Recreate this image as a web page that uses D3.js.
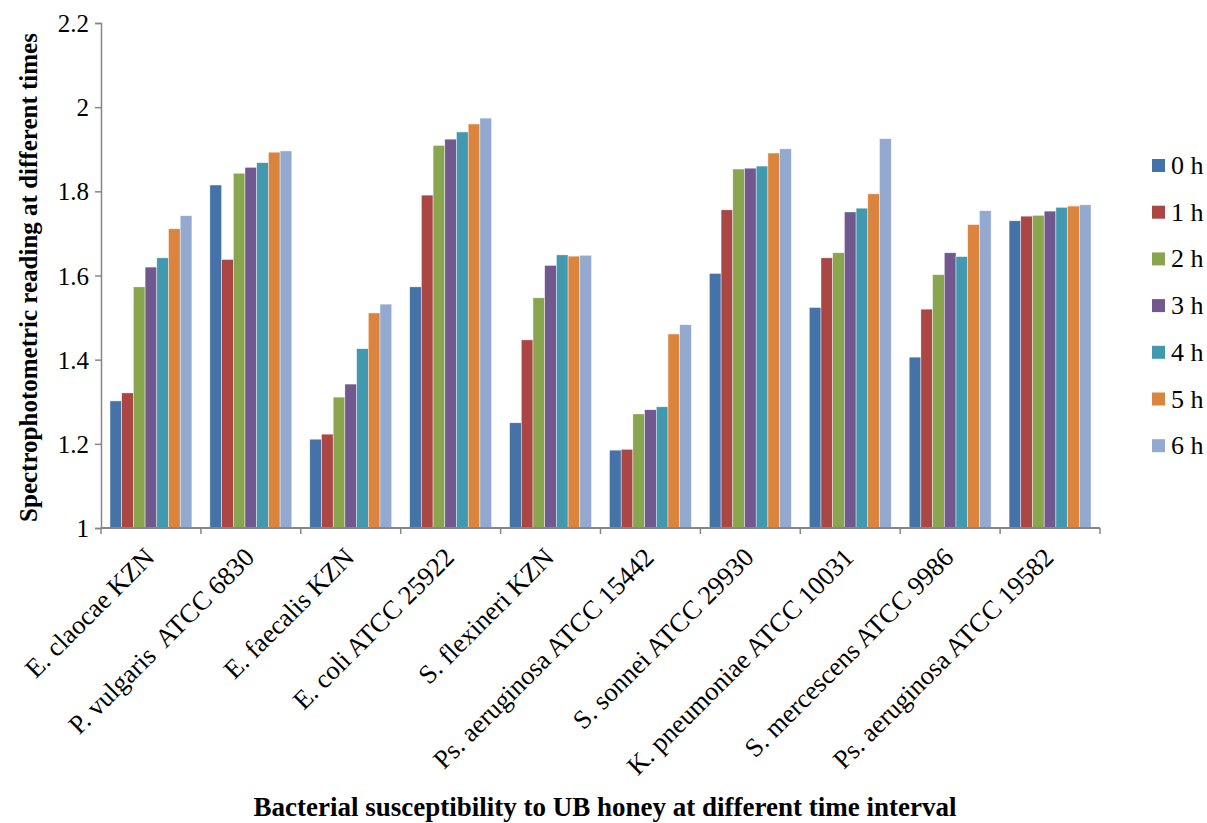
<!DOCTYPE html>
<html>
<head>
<meta charset="utf-8">
<script src="https://cdn.jsdelivr.net/npm/d3@7"></script>
<style>
  body { margin: 0; background: #fff; }
  svg { display: block; }
</style>
</head>
<body>
<svg id="chart" width="1207" height="823"></svg>
<script>
const categories = [
  "E. claocae KZN",
  "P. vulgaris\u00a0 ATCC 6830",
  "E. faecalis KZN",
  "E. coli ATCC 25922",
  "S. flexineri KZN",
  "Ps. aeruginosa ATCC 15442",
  "S. sonnei ATCC 29930",
  "K. pneumoniae ATCC 10031",
  "S. mercescens ATCC 9986",
  "Ps. aeruginosa ATCC 19582"
];
const seriesNames = ["0 h", "1 h", "2 h", "3 h", "4 h", "5 h", "6 h"];
const seriesColors = ["#4572A7", "#AA4643", "#89A54E", "#71588F", "#4198AF", "#DB843D", "#93A9CF"];
const h0 = [1.302, 1.815, 1.211, 1.573, 1.250, 1.185, 1.605, 1.524, 1.406, 1.730];
const h1 = [1.321, 1.638, 1.223, 1.791, 1.447, 1.187, 1.756, 1.642, 1.520, 1.741];
const h2 = [1.573, 1.843, 1.311, 1.909, 1.547, 1.271, 1.853, 1.654, 1.602, 1.743];
const h3 = [1.620, 1.857, 1.342, 1.924, 1.624, 1.281, 1.855, 1.751, 1.654, 1.753];
const h4 = [1.642, 1.868, 1.426, 1.941, 1.649, 1.288, 1.860, 1.760, 1.645, 1.762];
const h5 = [1.711, 1.893, 1.511, 1.960, 1.646, 1.461, 1.891, 1.794, 1.721, 1.765];
const h6 = [1.742, 1.896, 1.532, 1.974, 1.648, 1.483, 1.901, 1.925, 1.754, 1.768];
const yTicks = [1, 1.2, 1.4, 1.6, 1.8, 2, 2.2];
const yTitle = "Spectrophotometric reading at different times";
const xTitle = "Bacterial susceptibility to UB honey at different time interval";

const series = [h0, h1, h2, h3, h4, h5, h6];
const FONT = "'Liberation Serif', 'Times New Roman', serif";

const svg = d3.select("#chart");
const margin = { left: 101, right: 1100, top: 23, bottom: 528 };

const x0 = d3.scaleBand().domain(categories)
  .range([margin.left, margin.right]).paddingInner(0.18).paddingOuter(0.09);
const x1 = d3.scaleBand().domain(seriesNames).range([0, x0.bandwidth()]).padding(0);
const y = d3.scaleLinear().domain([1, 2.2]).range([margin.bottom, margin.top]);

const axisColor = "#868686";

// bars
const groups = svg.append("g").selectAll("g")
  .data(categories).join("g")
  .attr("transform", d => `translate(${x0(d)},0)`);

groups.selectAll("rect")
  .data((c, i) => series.map((s, k) => ({ name: seriesNames[k], value: s[i], color: seriesColors[k] })))
  .join("rect")
  .attr("x", d => x1(d.name))
  .attr("width", x1.bandwidth())
  .attr("y", d => y(d.value))
  .attr("height", d => y(1) - y(d.value))
  .attr("fill", d => d.color)
  .attr("stroke", "rgba(255,255,255,0.7)")
  .attr("stroke-width", 0.6);

// y axis
const yAxis = d3.axisLeft(y).tickValues(yTicks).tickFormat(d3.format("~g")).tickSize(6).tickPadding(6);
const gy = svg.append("g").attr("transform", `translate(${margin.left},0)`).call(yAxis);
gy.attr("font-family", FONT).attr("font-size", 25);
gy.select(".domain").attr("stroke", axisColor).attr("stroke-width", 1.5);
gy.selectAll(".tick line").attr("stroke", axisColor).attr("stroke-width", 1.5);
gy.selectAll(".tick text")
  .style("font-family", FONT).style("font-size", "25px")
  .attr("fill", "#000").attr("dy", "0.34em");

// x axis
const boundaries = d3.range(categories.length + 1).map(i => margin.left + i * x0.step());
const gx = svg.append("g");
gx.append("line")
  .attr("x1", margin.left).attr("x2", margin.right)
  .attr("y1", y(1)).attr("y2", y(1))
  .attr("stroke", axisColor).attr("stroke-width", 2);
gx.selectAll("line.tk").data(boundaries).join("line").attr("class", "tk")
  .attr("x1", d => d).attr("x2", d => d)
  .attr("y1", y(1)).attr("y2", y(1) + 6)
  .attr("stroke", axisColor).attr("stroke-width", 1.5);

gx.selectAll("text.cat").data(categories).join("text").attr("class", "cat")
  .attr("transform", d => `translate(${x0(d) + x0.bandwidth() / 2 + 5},${y(1) + 31}) rotate(-45)`)
  .attr("text-anchor", "end")
  .style("font-family", FONT).style("font-size", "26.5px").attr("fill", "#000")
  .text(d => d);

// titles
svg.append("text")
  .attr("transform", `translate(37,${(margin.top + margin.bottom) / 2 + 2}) rotate(-90)`)
  .attr("text-anchor", "middle")
  .style("font-family", FONT).style("font-size", "25px").style("font-weight", "bold")
  .text(yTitle);

svg.append("text")
  .attr("x", 605).attr("y", 816)
  .attr("text-anchor", "middle")
  .style("font-family", FONT).style("font-size", "27px").style("font-weight", "bold")
  .text(xTitle);

// legend
const legend = svg.append("g").attr("transform", "translate(1152,159)");
const li = legend.selectAll("g").data(seriesNames).join("g")
  .attr("transform", (d, i) => `translate(0,${i * 46.7})`);
li.append("rect").attr("width", 13).attr("height", 13).attr("fill", (d, i) => seriesColors[i]);
li.append("text").attr("x", 19).attr("y", 15)
  .style("font-family", FONT).style("font-size", "26px").attr("fill", "#000")
  .text(d => d);
</script>
</body>
</html>
